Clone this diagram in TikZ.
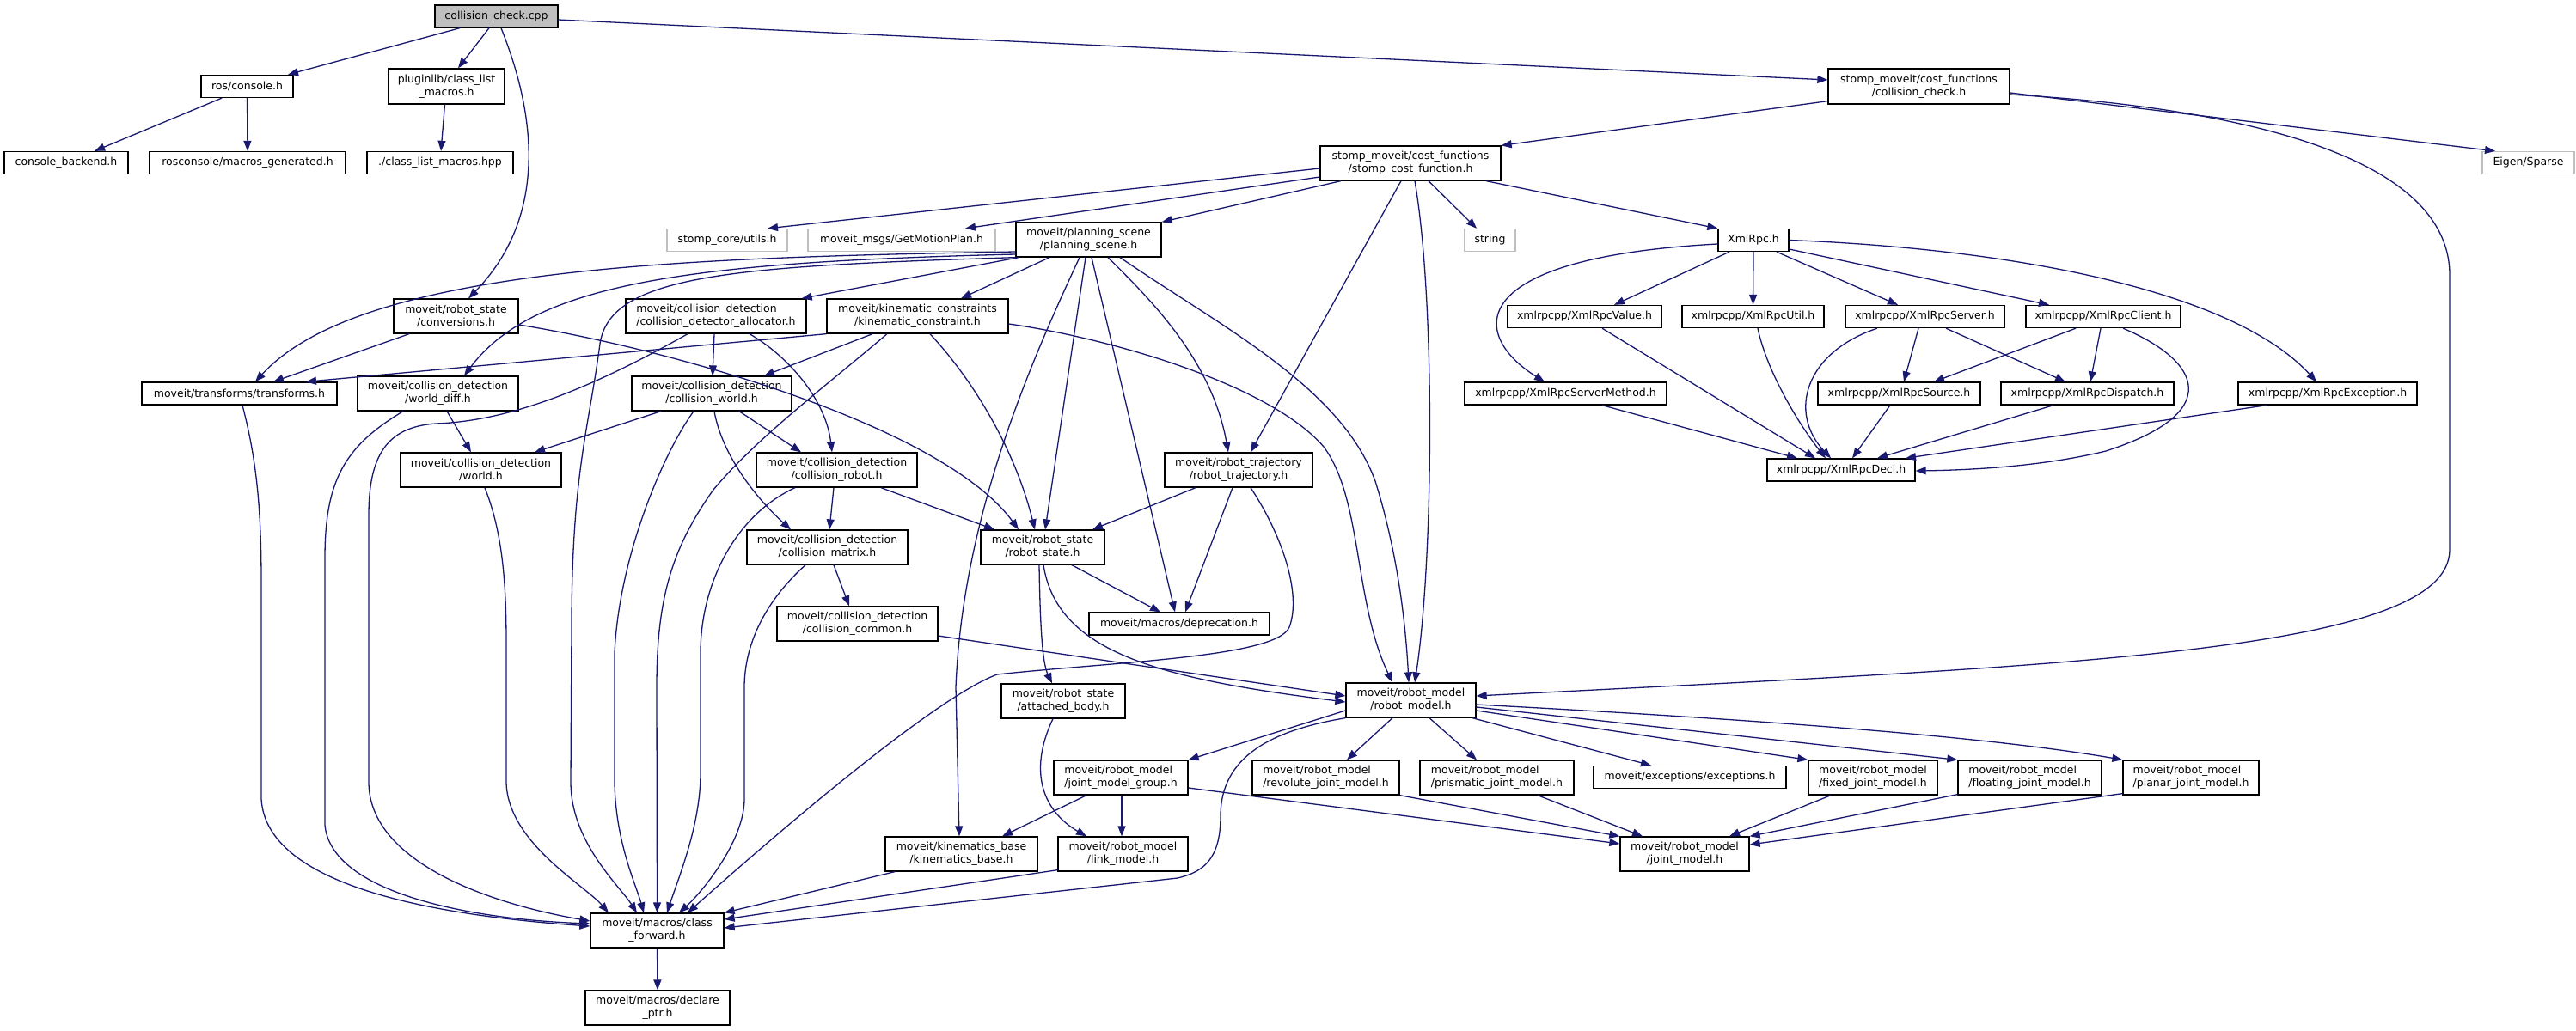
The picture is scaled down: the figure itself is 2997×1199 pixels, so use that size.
\documentclass[tikz,border=0pt]{standalone}
\usepackage{fontspec}
\setmainfont{DejaVu Sans}
\usetikzlibrary{arrows.meta}
\definecolor{edgeblue}{RGB}{25,25,112}
\definecolor{greyl}{RGB}{191,191,191}
\tikzset{
  box/.style={draw=black, line width=1.3pt, fill=white, inner sep=0pt, align=center,
    font=\fontsize{12.5}{15}\selectfont, text=black},
  greybox/.style={draw=greyl},
  rootbox/.style={fill=greyl},
  lal/.style={align=left},
  e/.style={draw=edgeblue, line width=1.3pt, -{Triangle[length=12pt,width=9pt]}},
}
\newcommand\nd[7][]{\node[box,minimum width=#5,minimum height=#6,#1] (#2) at (#3,#4) {#7};}
\begin{document}
\begin{tikzpicture}[x=1pt,y=-1pt]
\path[use as bounding box, fill=white] (0,0) rectangle (2997,1199);
% nodes
\nd[rootbox]{cc}{577.5}{19}{143}{26}{collision\_check.cpp}
\nd{console}{287.5}{100.5}{107}{26}{ros/console.h}
\nd{plugin}{519.5}{100.5}{135}{41}{pluginlib/class\_list\\\_macros.h}
\nd{backend}{77}{189.5}{144}{26}{console\_backend.h}
\nd{mgen}{288}{189.5}{228}{26}{rosconsole/macros\_generated.h}
\nd{clm}{512}{189.5}{170}{26}{./class\_list\_macros.hpp}
\nd{conv}{530.5}{368}{145}{40}{moveit/robot\_state\\/conversions.h}
\nd[greybox]{utils}{846}{279.5}{140}{26}{stomp\_core/utils.h}
\nd[greybox]{gmp}{1049}{279.5}{218}{26}{moveit\_msgs/GetMotionPlan.h}
\nd{ps}{1266.5}{279}{169}{40}{moveit/planning\_scene\\/planning\_scene.h}
\nd[lal]{cda}{833}{368}{210}{40}{moveit/collision\_detection\\/collision\_detector\_allocator.h}
\nd{kc}{1067.5}{368}{211}{40}{moveit/kinematic\_constraints\\/kinematic\_constraint.h}
\nd{cch}{2232.5}{100.5}{211}{41}{stomp\_moveit/cost\_functions\\/collision\_check.h}
\nd{scf}{1641}{190}{210}{40}{stomp\_moveit/cost\_functions\\/stomp\_cost\_function.h}
\nd[greybox]{str}{1733.5}{279.5}{59}{26}{string}
\nd{xr}{2040}{279.5}{82}{26}{XmlRpc.h}
\nd{val}{1843.5}{368.5}{179}{26}{xmlrpcpp/XmlRpcValue.h}
\nd{util}{2039.5}{368.5}{165}{26}{xmlrpcpp/XmlRpcUtil.h}
\nd{srv}{2239.5}{368.5}{185}{26}{xmlrpcpp/XmlRpcServer.h}
\nd{cli}{2447}{368.5}{180}{26}{xmlrpcpp/XmlRpcClient.h}
\nd[greybox]{eig}{2941.5}{189.5}{107}{26}{Eigen/Sparse}
\nd{tf}{278.5}{458}{227}{26}{moveit/transforms/transforms.h}
\nd{wd}{509.5}{458}{187}{40}{moveit/collision\_detection\\/world\_diff.h}
\nd{wo}{559.5}{547}{187}{40}{moveit/collision\_detection\\/world.h}
\nd{cw}{828}{458}{186}{40}{moveit/collision\_detection\\/collision\_world.h}
\nd{cr}{973.5}{547}{187}{40}{moveit/collision\_detection\\/collision\_robot.h}
\nd{cm}{962.5}{637}{187}{40}{moveit/collision\_detection\\/collision\_matrix.h}
\nd{rs}{1213}{637}{144}{40}{moveit/robot\_state\\/robot\_state.h}
\nd{cco}{997.5}{726}{187}{40}{moveit/collision\_detection\\/collision\_common.h}
\nd{dep}{1372}{726}{210}{26}{moveit/macros/deprecation.h}
\nd{rt}{1441}{547}{172}{40}{moveit/robot\_trajectory\\/robot\_trajectory.h}
\nd{sm}{1821.5}{458}{235}{26}{xmlrpcpp/XmlRpcServerMethod.h}
\nd{src}{2209.5}{458}{189}{26}{xmlrpcpp/XmlRpcSource.h}
\nd{dsp}{2428.5}{458}{201}{26}{xmlrpcpp/XmlRpcDispatch.h}
\nd{exc}{2708}{458}{208}{26}{xmlrpcpp/XmlRpcException.h}
\nd{decl}{2142}{547}{172}{26}{xmlrpcpp/XmlRpcDecl.h}
\nd{ab}{1237}{816}{144}{40}{moveit/robot\_state\\/attached\_body.h}
\nd{rm}{1641.5}{815}{151}{40}{moveit/robot\_model\\/robot\_model.h}
\nd{cf}{764.5}{1083}{155}{40}{moveit/macros/class\\\_forward.h}
\nd{dp}{765}{1173}{168}{40}{moveit/macros/declare\\\_ptr.h}
\nd[lal]{jmg}{1304}{905}{156}{40}{moveit/robot\_model\\/joint\_model\_group.h}
\nd[lal]{rev}{1542.5}{905}{171}{40}{moveit/robot\_model\\/revolute\_joint\_model.h}
\nd[lal]{pri}{1741.5}{905}{179}{40}{moveit/robot\_model\\/prismatic\_joint\_model.h}
\nd{exs}{1966}{904.5}{224}{26}{moveit/exceptions/exceptions.h}
\nd[lal]{fix}{2179}{905}{150}{40}{moveit/robot\_model\\/fixed\_joint\_model.h}
\nd[lal]{flo}{2361.5}{905}{167}{40}{moveit/robot\_model\\/floating\_joint\_model.h}
\nd[lal]{pla}{2549}{905}{158}{40}{moveit/robot\_model\\/planar\_joint\_model.h}
\nd{kb}{1118.5}{994}{177}{40}{moveit/kinematics\_base\\/kinematics\_base.h}
\nd{lm}{1306.5}{994}{151}{40}{moveit/robot\_model\\/link\_model.h}
\nd{jm}{1960}{994}{150}{40}{moveit/robot\_model\\/joint\_model.h}
% edges from collision_check.cpp
\draw[e] ([xshift=-42.5]cc.south) -- ([xshift=47.5]console.north);
\draw[e] ([xshift=-8.5]cc.south) -- ([xshift=13.5]plugin.north);
\draw[e] ([xshift=5.5]cc.south) .. controls (630,150) and (630,260) .. ([xshift=14.5]conv.north);
\draw[e] ([yshift=-4]cc.east) -- ([yshift=7.5]cch.west);
\draw[e] ([xshift=-29.5]console.south) -- ([xshift=33]backend.north);
\draw[e] (console.south) -- (mgen.north);
\draw[e] ([xshift=-2]plugin.south) -- ([xshift=1]clm.north);
% collision_check.h
\draw[e] ([yshift=4]cch.south west) -- (scf.north east);
\draw[e] ([yshift=-7.5]cch.east) -- ([xshift=-38.5]eig.north);
\draw[e] ([yshift=-9.5]cch.east) .. controls (2600,125) and (2850,180) .. (2850,320) -- (2850,640) .. controls (2850,760) and (2400,775) .. ([yshift=5]rm.east);
% stomp_cost_function.h
\draw[e] ([yshift=-6]scf.west) -- ([xshift=47]utils.north);
\draw[e] ([yshift=-16]scf.west) -- ([xshift=74]gmp.north);
\draw[e] ([xshift=-81]scf.south) -- (ps.north east);
\draw[e] ([xshift=21]scf.south) -- ([xshift=-15.5]str.north);
\draw[e] ([xshift=88]scf.south) -- (xr.north west);
\draw[e] ([xshift=-11]scf.south) -- ([xshift=14]rt.north);
\draw[e] ([xshift=5]scf.south) .. controls (1670,350) and (1668,650) .. ([xshift=4.5]rm.north);
% planning_scene.h
\draw[e] ([yshift=-14]ps.west) .. controls (800,300) and (420,310) .. ([xshift=18.5]tf.north);
\draw[e] ([yshift=-17]ps.west) .. controls (800,305) and (620,330) .. ([xshift=30.5]wd.north);
\draw[e] (ps.south west) .. controls (850,310) and (710,320) .. (698,400) .. controls (685,500) and (665,550) .. (665,733) -- (664,910) .. controls (664,980) and (720,1030) .. ([xshift=-23.5]cf.north);
\draw[e] ([xshift=4]ps.south west) -- ([xshift=-6]cda.north east);
\draw[e] ([xshift=-45.5]ps.south) -- ([xshift=50.5]kc.north);
\draw[e] ([xshift=-10.5]ps.south) .. controls (1200,420) and (1120,600) .. (1112,800) -- ([xshift=-2.5]kb.north);
\draw[e] ([xshift=-3.5]ps.south) -- ([xshift=3]rs.north);
\draw[e] ([xshift=3.5]ps.south) -- ([xshift=-5]dep.north);
\draw[e] ([xshift=22.5]ps.south) .. controls (1340,350) and (1410,420) .. ([xshift=-12]rt.north);
\draw[e] ([xshift=36.5]ps.south) .. controls (1420,380) and (1560,450) .. (1600,560) .. controls (1625,640) and (1635,720) .. ([xshift=-2.5]rm.north);
% conversions.h
\draw[e] ([xshift=-54.5]conv.south) -- ([xshift=39.5]tf.north);
\draw[e] ([yshift=-10]conv.east) .. controls (800,410) and (1100,500) .. ([xshift=-28]rs.north);
% kinematic_constraint.h
\draw[e] (kc.south west) -- ([xshift=77.5]tf.north);
\draw[e] ([xshift=-52.5]kc.south) -- ([xshift=61]cw.north);
\draw[e] ([xshift=14.5]kc.south) .. controls (1130,440) and (1180,520) .. ([xshift=-9]rs.north);
\draw[e] ([yshift=-9]kc.east) .. controls (1300,395) and (1480,450) .. (1540,520) .. controls (1585,580) and (1575,700) .. ([xshift=-21.5]rm.north);
\draw[e] ([xshift=-35.5]kc.south) .. controls (960,450) and (880,510) .. (830,570) .. controls (780,640) and (764,700) .. (764,800) -- (cf.north);
% collision_detector_allocator.h
\draw[e] ([xshift=-2]cda.south) -- ([xshift=1]cw.north);
\draw[e] ([xshift=39]cda.south) .. controls (910,410) and (960,460) .. ([xshift=-5.5]cr.north);
\draw[e] ([xshift=-33]cda.south) .. controls (700,445) and (600,490) .. (507,493) .. controls (450,497) and (429,530) .. (429,600) -- (429,910) .. controls (429,1000) and (560,1050) .. ([yshift=11]cf.west);
% collision_world.h
\draw[e] ([xshift=-59]cw.south) -- ([xshift=62.5]wo.north);
\draw[e] ([xshift=32]cw.south) -- ([xshift=-41.5]cr.north);
\draw[e] ([xshift=3]cw.south) .. controls (840,530) and (880,580) .. ([xshift=-42.5]cm.north);
\draw[e] ([xshift=-21]cw.south) .. controls (770,530) and (720,650) .. (715,760) -- (715,910) .. controls (716,980) and (740,1030) .. ([xshift=-15.5]cf.north);
% world_diff.h, world.h, transforms.h
\draw[e] ([xshift=10.5]wd.south) -- ([xshift=-11.5]wo.north);
\draw[e] ([xshift=-40.5]wd.south) .. controls (400,520) and (378,560) .. (378,650) -- (378,960) .. controls (385,1040) and (550,1070) .. ([yshift=8]cf.west);
\draw[e] ([xshift=4.5]wo.south) .. controls (585,620) and (589,680) .. (589,750) -- (589,910) .. controls (590,980) and (680,1030) .. ([xshift=-56.5]cf.north);
\draw[e] ([xshift=3.5]tf.south) .. controls (300,540) and (304,600) .. (304,680) -- (304,930) .. controls (310,1030) and (500,1065) .. ([yshift=5]cf.west);
% collision_robot.h
\draw[e] ([xshift=-3.5]cr.south) -- ([xshift=2.5]cm.north);
\draw[e] ([xshift=51.5]cr.south) -- ([xshift=-56]rs.north);
\draw[e] ([xshift=-48.5]cr.south) .. controls (855,600) and (815,680) .. (815,760) -- (815,900) .. controls (815,960) and (790,1020) .. ([xshift=11.5]cf.north);
% collision_matrix.h, collision_common.h
\draw[e] ([xshift=7.5]cm.south) -- ([xshift=-9.5]cco.north);
\draw[e] ([xshift=-25.5]cm.south) .. controls (890,700) and (866,750) .. (866,800) -- (866,930) .. controls (866,980) and (815,1040) .. ([xshift=25.5]cf.north);
\draw[e] ([yshift=-14]cco.east) -- ([yshift=5]rm.west);
% robot_trajectory.h
\draw[e] ([xshift=-50]rt.south) -- ([xshift=58]rs.north);
\draw[e] ([xshift=-7]rt.south) -- ([xshift=7]dep.north);
\draw[e] ([xshift=14]rt.south) .. controls (1490,620) and (1515,690) .. (1500,730) .. controls (1485,765) and (1300,770) .. (1160,785) .. controls (1080,815) and (870,1000) .. ([xshift=35.5]cf.north);
% robot_state.h
\draw[e] ([xshift=34]rs.south) -- ([xshift=-22]dep.north);
\draw[e] ([xshift=-4]rs.south) .. controls (1210,720) and (1212,770) .. ([xshift=-13]ab.north);
\draw[e] ([xshift=1]rs.south) .. controls (1230,760) and (1350,790) .. ([yshift=-2]rm.west);
\draw[e] ([xshift=-12]ab.south) .. controls (1195,900) and (1215,945) .. ([xshift=-42.5]lm.north);
% robot_model.h
\draw[e] ([yshift=-12]rm.west) -- (jmg.north east);
\draw[e] ([xshift=-21.5]rm.south) -- ([xshift=24.5]rev.north);
\draw[e] ([xshift=21.5]rm.south) -- ([xshift=-23.5]pri.north);
\draw[e] ([xshift=71.5]rm.south) -- ([xshift=-45]exs.north);
\draw[e] ([yshift=-12]rm.east) -- (fix.north west);
\draw[e] ([yshift=-8]rm.east) -- (flo.north west);
\draw[e] ([yshift=-5]rm.east) .. controls (2000,835) and (2300,855) .. (pla.north west);
\draw[e] (rm.south west) .. controls (1480,850) and (1420,880) .. (1420,950) .. controls (1420,1000) and (1400,1015) .. (1370,1022) -- ([yshift=3]cf.east);
% joint_model_group.h and others
\draw[e] ([xshift=-40]jmg.south) -- ([xshift=47.5]kb.north);
\draw[e] ([xshift=1]jmg.south) -- ([xshift=-1.5]lm.north);
\draw[e] ([yshift=-12]jmg.east) -- ([yshift=12]jm.west);
\draw[e] ([xshift=-77.5]kb.south) -- (cf.north east);
\draw[e] ([yshift=2]lm.south west) -- ([yshift=13]cf.east);
\draw[e] (rev.south east) -- (jm.north west);
\draw[e] ([xshift=47.5]pri.south) -- ([xshift=-49]jm.north);
\draw[e] ([xshift=-49]fix.south) -- ([xshift=52]jm.north);
\draw[e] ([yshift=1]flo.south west) -- (jm.north east);
\draw[e] ([yshift=2]pla.south west) -- ([yshift=11]jm.east);
\draw[e] (cf.south) -- (dp.north);
% XmlRpc.h
\draw[e] ([xshift=-28]xr.south) -- ([xshift=34.5]val.north);
\draw[e] (xr.south) -- (util.north);
\draw[e] ([xshift=27]xr.south) -- ([xshift=-31.5]srv.north);
\draw[e] ([yshift=-10.5]xr.east) -- ([xshift=-63]cli.north);
\draw[e] ([yshift=-4.5]xr.west) .. controls (1700,300) and (1710,390) .. ([xshift=-24.5]sm.north);
\draw[e] (xr.east) .. controls (2350,290) and (2600,340) .. ([xshift=-13]exc.north);
\draw[e] ([xshift=20.5]val.south) -- ([xshift=-30]decl.north);
\draw[e] ([xshift=5.5]util.south) .. controls (2055,430) and (2090,490) .. ([xshift=-18]decl.north);
\draw[e] ([xshift=-55.5]srv.south) .. controls (2100,410) and (2080,480) .. ([xshift=-12]decl.north);
\draw[e] ([xshift=-7.5]srv.south) -- ([xshift=5.5]src.north);
\draw[e] ([xshift=24.5]srv.south) -- ([xshift=-25.5]dsp.north);
\draw[e] ([xshift=-32]cli.south) -- ([xshift=40.5]src.north);
\draw[e] ([xshift=-3]cli.south) -- ([xshift=3.5]dsp.north);
\draw[e] ([xshift=23]cli.south) .. controls (2560,420) and (2590,480) .. (2450,525) .. controls (2380,542) and (2300,547) .. ([yshift=-1]decl.east);
\draw[e] ([xshift=-10.5]src.south) -- ([xshift=13]decl.north);
\draw[e] ([xshift=-39.5]dsp.south) -- ([xshift=42]decl.north);
\draw[e] ([xshift=-71]exc.south) -- ([xshift=75]decl.north);
\draw[e] ([xshift=42.5]sm.south) -- ([xshift=-51]decl.north);
\end{tikzpicture}
\end{document}
